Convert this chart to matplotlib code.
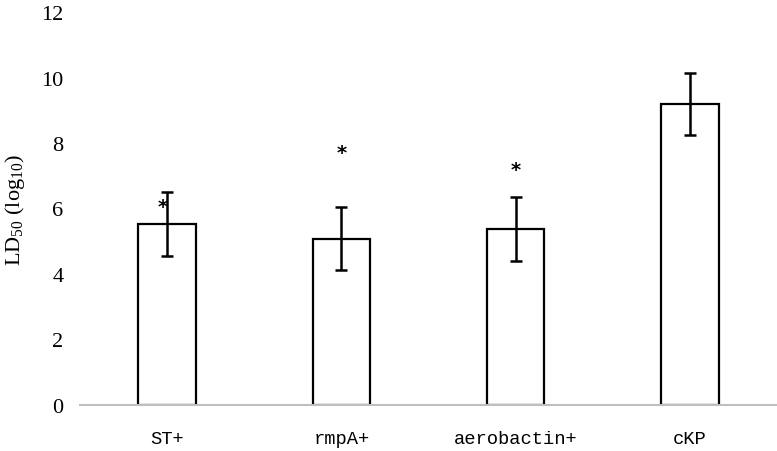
import matplotlib
matplotlib.use("Agg")
import matplotlib.pyplot as plt
import numpy as np

groups = ["ST+", "rmpA+", "aerobactin+", "cKP"]
ld50 = [5.53, 5.08, 5.37, 9.19]
err = [0.97, 0.96, 0.97, 0.95]
# significance stars: (group index offset, height)
star_x = [-0.025, 1.0, 2.0]
star_y = [6.05, 7.7, 7.2]

plt.rcParams['mathtext.default'] = 'regular'

fig = plt.figure(figsize=(7.77, 4.52), dpi=100)
ax = fig.add_axes([80/777, 46/452, 697/777, 393/452])

x = np.arange(len(groups))
ax.bar(x, ld50, width=0.33, color="white", edgecolor="black", linewidth=1.6, zorder=2)
ax.errorbar(x, ld50, yerr=err, fmt="none", ecolor="black", elinewidth=1.8,
            capsize=4, capthick=1.8, zorder=3)
for sx, sy in zip(star_x, star_y):
    ax.text(sx, sy, "*", ha="center", va="center", fontsize=14, fontweight="bold",
            family="DejaVu Sans")

ax.set_xlim(-0.5, 3.5)
ax.set_ylim(0, 12)
ax.set_yticks(range(0, 13, 2))
ax.set_xticks(x)
ax.set_xticklabels(groups, family="Liberation Mono", fontsize=13.5)
for lab in ax.get_yticklabels():
    lab.set_family("Liberation Serif")
    lab.set_fontsize(16)
ax.tick_params(length=0)
ax.tick_params(axis="y", pad=12)
ax.tick_params(axis="x", pad=18)

for s in ["top", "right", "left"]:
    ax.spines[s].set_visible(False)
ax.spines["bottom"].set_color("#bfbfbf")
ax.spines["bottom"].set_linewidth(1.5)

ax.set_ylabel("LD$_{50}$ (log$_{10}$)", family="Liberation Serif", fontsize=16)
ax.yaxis.set_label_coords(-0.076, 0.5)

fig.savefig("out.png", dpi=100)
